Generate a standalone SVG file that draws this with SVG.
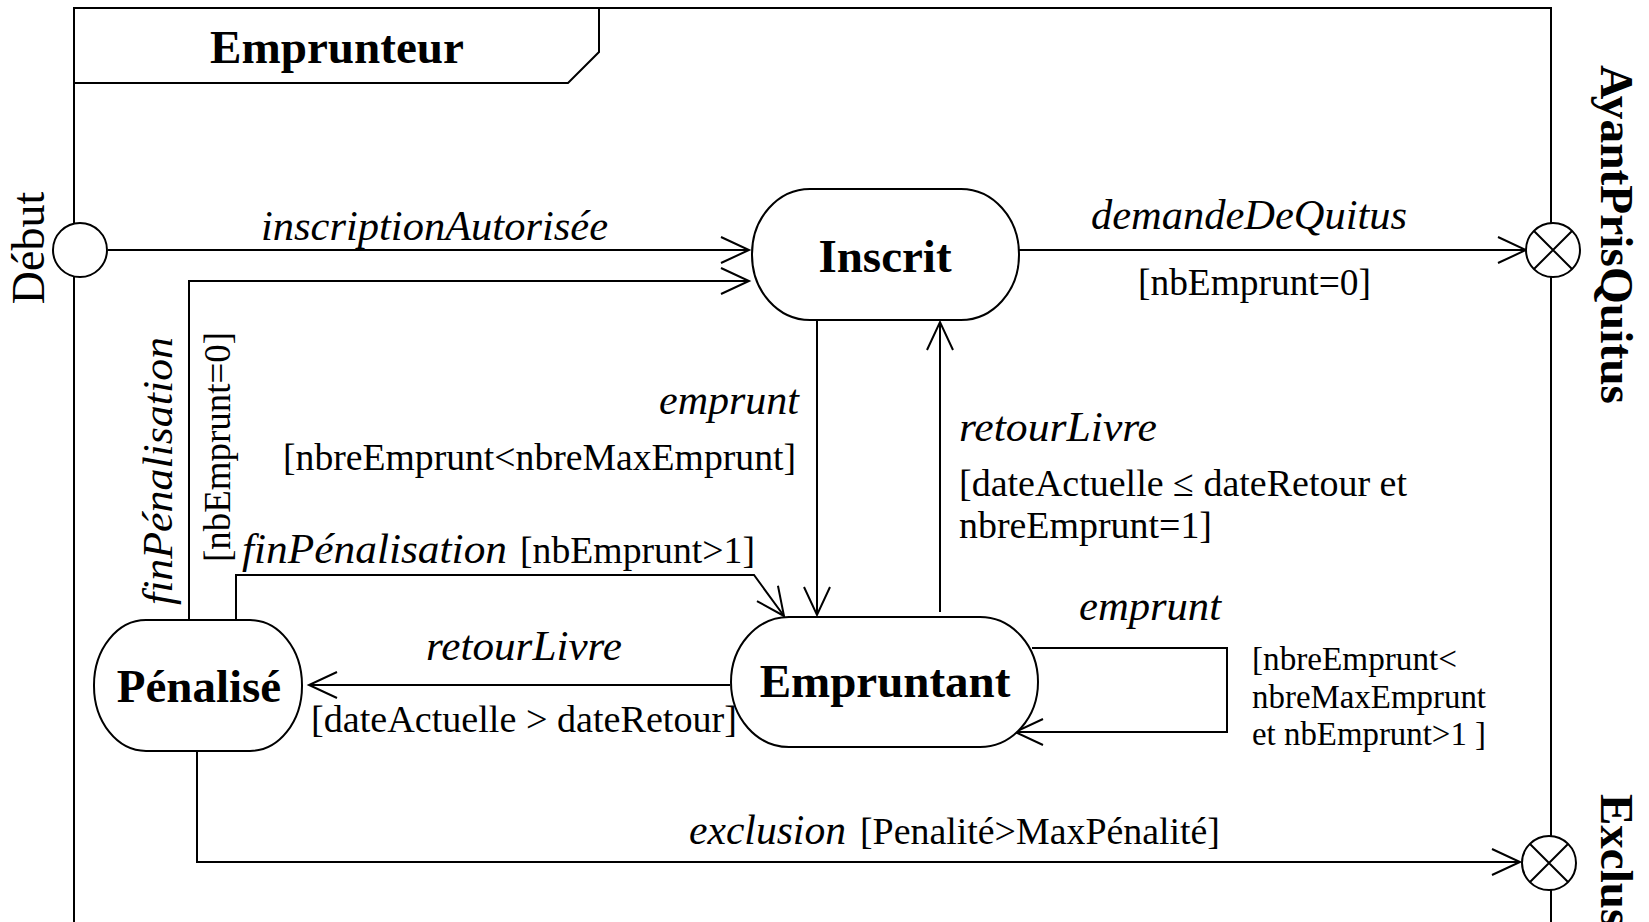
<svg xmlns="http://www.w3.org/2000/svg" width="1649" height="922" viewBox="0 0 1649 922">
<style>
.ln{fill:none;stroke:#000;stroke-width:2}
.node{fill:#fff;stroke:#000;stroke-width:2}
.ev{font-family:"Liberation Serif","Times New Roman",serif;font-style:italic;font-size:42px;fill:#000}
.gd{font-family:"Liberation Serif","Times New Roman",serif;font-size:38px;fill:#000}
.sm{font-family:"Liberation Serif","Times New Roman",serif;font-size:34px;fill:#000}
.nl{font-family:"Liberation Serif","Times New Roman",serif;font-weight:bold;font-size:47px;fill:#000;text-anchor:middle}
.bd{font-family:"Liberation Serif","Times New Roman",serif;font-weight:bold;font-size:47px;fill:#000}
</style>
<defs>
<marker id="arr" markerUnits="userSpaceOnUse" markerWidth="60" markerHeight="60" refX="0" refY="0" orient="auto" overflow="visible">
<path d="M-28,-13 L0,0 L-28,13" fill="none" stroke="#000" stroke-width="2"/>
</marker>
</defs>
<rect width="1649" height="922" fill="#fff"/>
<g id="frame">
<path class="ln" d="M74,960 V8 H1551 V960"/>
<path class="ln" d="M74,8 H599 V52 L568,83 H74"/>
<text class="bd" x="210" y="63" textLength="254" lengthAdjust="spacingAndGlyphs">Emprunteur</text>
</g>
<g id="connectors">
<path class="ln" d="M108,250 H749" marker-end="url(#arr)"/>
<path class="ln" d="M189,619 V281 H749" marker-end="url(#arr)"/>
<path class="ln" d="M1019,250 H1526" marker-end="url(#arr)"/>
<path class="ln" d="M817,320 V615" marker-end="url(#arr)"/>
<path class="ln" d="M940,612 V322" marker-end="url(#arr)"/>
<path class="ln" d="M236,621 V575 H754 L784,616" marker-end="url(#arr)"/>
<path class="ln" d="M730,685 H309" marker-end="url(#arr)"/>
<path class="ln" d="M1032,648 H1227 V732 H1015" marker-end="url(#arr)"/>
<path class="ln" d="M197,751 V862 H1520" marker-end="url(#arr)"/>
<text class="ev" x="261" y="240" textLength="347" lengthAdjust="spacingAndGlyphs">inscriptionAutorisée</text>
<text class="ev" x="1091" y="229" textLength="316" lengthAdjust="spacingAndGlyphs">demandeDeQuitus</text>
<text class="gd" x="1138" y="295" textLength="233" lengthAdjust="spacingAndGlyphs">[nbEmprunt=0]</text>
<text class="ev" transform="translate(172,605) rotate(-90)" textLength="268" lengthAdjust="spacingAndGlyphs">finPénalisation</text>
<text class="gd" transform="translate(230,562) rotate(-90)" textLength="230" lengthAdjust="spacingAndGlyphs">[nbEmprunt=0]</text>
<text class="ev" x="659" y="414" textLength="140" lengthAdjust="spacingAndGlyphs">emprunt</text>
<text class="gd" x="283" y="470" textLength="513" lengthAdjust="spacingAndGlyphs">[nbreEmprunt&lt;nbreMaxEmprunt]</text>
<text class="ev" x="959" y="441" textLength="198" lengthAdjust="spacingAndGlyphs">retourLivre</text>
<text class="gd" x="959" y="496" textLength="448" lengthAdjust="spacingAndGlyphs">[dateActuelle ≤ dateRetour et</text>
<text class="gd" x="959" y="538" textLength="253" lengthAdjust="spacingAndGlyphs">nbreEmprunt=1]</text>
<text class="ev" x="242" y="563" textLength="265" lengthAdjust="spacingAndGlyphs">finPénalisation</text>
<text class="gd" x="520" y="563" textLength="235" lengthAdjust="spacingAndGlyphs">[nbEmprunt&gt;1]</text>
<text class="ev" x="426" y="660" textLength="196" lengthAdjust="spacingAndGlyphs">retourLivre</text>
<text class="gd" x="311" y="732" textLength="426" lengthAdjust="spacingAndGlyphs">[dateActuelle &gt; dateRetour]</text>
<text class="ev" x="1079" y="620" textLength="142" lengthAdjust="spacingAndGlyphs">emprunt</text>
<text class="sm" x="1252" y="670" textLength="205" lengthAdjust="spacingAndGlyphs">[nbreEmprunt&lt;</text>
<text class="sm" x="1252" y="708" textLength="234" lengthAdjust="spacingAndGlyphs">nbreMaxEmprunt</text>
<text class="sm" x="1252" y="745" textLength="234" lengthAdjust="spacingAndGlyphs">et nbEmprunt&gt;1 ]</text>
<text class="ev" x="689" y="844" textLength="157" lengthAdjust="spacingAndGlyphs">exclusion</text>
<text class="gd" x="860" y="844" textLength="360" lengthAdjust="spacingAndGlyphs">[Penalité&gt;MaxPénalité]</text>
</g>
<g id="debut">
<circle class="node" cx="80" cy="250" r="27"/>
<text class="gd" style="font-size:46px;text-anchor:middle" transform="translate(44,248) rotate(-90)">Début</text>
</g>
<g id="inscrit">
<rect class="node" x="752" y="189" width="267" height="131" rx="58" ry="65"/>
<text class="nl" x="885" y="272">Inscrit</text>
</g>
<g id="empruntant">
<rect class="node" x="731" y="617" width="307" height="130" rx="58" ry="65"/>
<text class="nl" x="885" y="697">Empruntant</text>
</g>
<g id="penalise">
<rect class="node" x="94" y="620" width="208" height="131" rx="52" ry="65"/>
<text class="nl" x="199" y="702">Pénalisé</text>
</g>
<g id="ayantPrisQuitus">
<circle class="node" cx="1553" cy="250" r="27"/>
<path class="ln" d="M1534,231 L1572,269 M1572,231 L1534,269"/>
<text class="bd" transform="translate(1601,65) rotate(90)" textLength="339" lengthAdjust="spacingAndGlyphs">AyantPrisQuitus</text>
</g>
<g id="exclus">
<circle class="node" cx="1549" cy="863" r="27"/>
<path class="ln" d="M1530,844 L1568,882 M1568,844 L1530,882"/>
<text class="bd" transform="translate(1601,794) rotate(90)">Exclus</text>
</g>
</svg>
